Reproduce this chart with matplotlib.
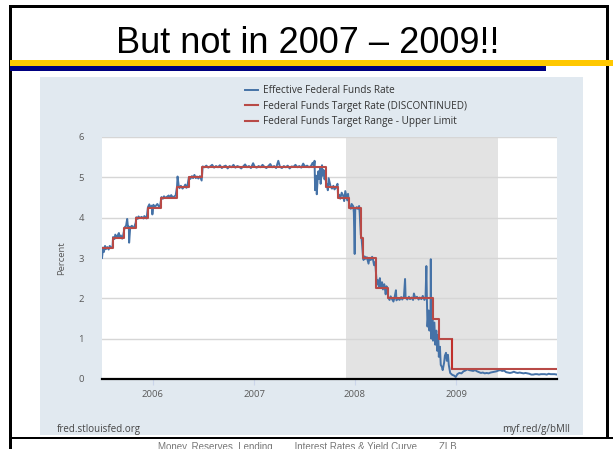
import matplotlib
matplotlib.use("Agg")
import matplotlib.pyplot as plt
from matplotlib.patches import Rectangle
import pandas as pd

# effective federal funds rate, percent
effr_dates = [
    "2005-07-01", "2005-07-05", "2005-07-08", "2005-07-12", "2005-07-15", "2005-07-20", "2005-07-25", "2005-07-29",
    "2005-08-03", "2005-08-08", "2005-08-10", "2005-08-15", "2005-08-18", "2005-08-23", "2005-08-26", "2005-08-31",
    "2005-09-02", "2005-09-07", "2005-09-12", "2005-09-15", "2005-09-21", "2005-09-26", "2005-09-30", "2005-10-03",
    "2005-10-06", "2005-10-07", "2005-10-11", "2005-10-17", "2005-10-21", "2005-10-26", "2005-10-31", "2005-11-02",
    "2005-11-07", "2005-11-10", "2005-11-15", "2005-11-21", "2005-11-28", "2005-12-01", "2005-12-06", "2005-12-09",
    "2005-12-14", "2005-12-19", "2005-12-23", "2005-12-28", "2005-12-30",
    "2006-01-03", "2006-01-06", "2006-01-11", "2006-01-17", "2006-01-23", "2006-01-27", "2006-02-01", "2006-02-06",
    "2006-02-10", "2006-02-15", "2006-02-21", "2006-02-27", "2006-03-03", "2006-03-08", "2006-03-14", "2006-03-20",
    "2006-03-24", "2006-03-29", "2006-03-31", "2006-04-04", "2006-04-07", "2006-04-12", "2006-04-18", "2006-04-24",
    "2006-04-28", "2006-05-02", "2006-05-05", "2006-05-11", "2006-05-16", "2006-05-22", "2006-05-26", "2006-05-31",
    "2006-06-05", "2006-06-09", "2006-06-14", "2006-06-20", "2006-06-26", "2006-06-30", "2006-07-06", "2006-07-13",
    "2006-07-20", "2006-07-27", "2006-08-03", "2006-08-10", "2006-08-17", "2006-08-24", "2006-08-31", "2006-09-07",
    "2006-09-14", "2006-09-21", "2006-09-28", "2006-10-05", "2006-10-12", "2006-10-19", "2006-10-26", "2006-11-02",
    "2006-11-09", "2006-11-16", "2006-11-23", "2006-11-30", "2006-12-07", "2006-12-14", "2006-12-21", "2006-12-29",
    "2007-01-04", "2007-01-11", "2007-01-18", "2007-01-25", "2007-02-01", "2007-02-08", "2007-02-15", "2007-02-22",
    "2007-03-01", "2007-03-08", "2007-03-15", "2007-03-22", "2007-03-30", "2007-04-05", "2007-04-12", "2007-04-19",
    "2007-04-26", "2007-05-03", "2007-05-10", "2007-05-17", "2007-05-24", "2007-05-31", "2007-06-07", "2007-06-14",
    "2007-06-21", "2007-06-28", "2007-07-05", "2007-07-12", "2007-07-19", "2007-07-26", "2007-08-01", "2007-08-06",
    "2007-08-08", "2007-08-10", "2007-08-13", "2007-08-15", "2007-08-16", "2007-08-20", "2007-08-22", "2007-08-24",
    "2007-08-28", "2007-08-30", "2007-09-04", "2007-09-06", "2007-09-10", "2007-09-13", "2007-09-17", "2007-09-19",
    "2007-09-21", "2007-09-25", "2007-09-28", "2007-10-02", "2007-10-05", "2007-10-10", "2007-10-15", "2007-10-19",
    "2007-10-24", "2007-10-30", "2007-11-01", "2007-11-05", "2007-11-09", "2007-11-14", "2007-11-19", "2007-11-23",
    "2007-11-27", "2007-11-30", "2007-12-04", "2007-12-07", "2007-12-12", "2007-12-17", "2007-12-20", "2007-12-26",
    "2007-12-28", "2007-12-31",
    "2008-01-02", "2008-01-07", "2008-01-11", "2008-01-16", "2008-01-18", "2008-01-22", "2008-01-25", "2008-01-30",
    "2008-02-01", "2008-02-05", "2008-02-08", "2008-02-13", "2008-02-19", "2008-02-22", "2008-02-27", "2008-03-03",
    "2008-03-06", "2008-03-10", "2008-03-14", "2008-03-18", "2008-03-20", "2008-03-24", "2008-03-27", "2008-03-31",
    "2008-04-03", "2008-04-08", "2008-04-11", "2008-04-16", "2008-04-21", "2008-04-24", "2008-04-28", "2008-04-30",
    "2008-05-05", "2008-05-09", "2008-05-14", "2008-05-19", "2008-05-23", "2008-05-28", "2008-05-30", "2008-06-04",
    "2008-06-10", "2008-06-16", "2008-06-20", "2008-06-26", "2008-06-30", "2008-07-02", "2008-07-08", "2008-07-14",
    "2008-07-18", "2008-07-23", "2008-07-29", "2008-08-01", "2008-08-06", "2008-08-12", "2008-08-18", "2008-08-22",
    "2008-08-28", "2008-09-02", "2008-09-08", "2008-09-12", "2008-09-15", "2008-09-17", "2008-09-19", "2008-09-23",
    "2008-09-26", "2008-09-30", "2008-10-01", "2008-10-03", "2008-10-07", "2008-10-09", "2008-10-14", "2008-10-17",
    "2008-10-21", "2008-10-24", "2008-10-28", "2008-10-30", "2008-11-03", "2008-11-06", "2008-11-10", "2008-11-13",
    "2008-11-18", "2008-11-21", "2008-11-25", "2008-11-28", "2008-12-02", "2008-12-05", "2008-12-10", "2008-12-15",
    "2008-12-18", "2008-12-23", "2008-12-30",
    "2009-01-05", "2009-01-12", "2009-01-20", "2009-01-27", "2009-02-03", "2009-02-10", "2009-02-17", "2009-02-24",
    "2009-03-03", "2009-03-10", "2009-03-17", "2009-03-24", "2009-03-31", "2009-04-07", "2009-04-14", "2009-04-21",
    "2009-04-28", "2009-05-05", "2009-05-12", "2009-05-19", "2009-05-26", "2009-06-02", "2009-06-09", "2009-06-16",
    "2009-06-23", "2009-06-30", "2009-07-07", "2009-07-14", "2009-07-21", "2009-07-28", "2009-08-04", "2009-08-11",
    "2009-08-18", "2009-08-25", "2009-09-01", "2009-09-08", "2009-09-15", "2009-09-22", "2009-09-29", "2009-10-06",
    "2009-10-13", "2009-10-20", "2009-10-27", "2009-11-03", "2009-11-10", "2009-11-17", "2009-11-24", "2009-12-01",
    "2009-12-08", "2009-12-15", "2009-12-22", "2009-12-31",
]
effr_vals = [
    3.00, 3.26, 3.15, 3.30, 3.22, 3.27, 3.21, 3.30,
    3.25, 3.28, 3.52, 3.47, 3.58, 3.50, 3.55, 3.62,
    3.50, 3.56, 3.48, 3.55, 3.76, 3.80, 3.97, 3.75,
    3.78, 3.38, 3.76, 3.80, 3.74, 3.78, 3.88, 4.01,
    3.97, 4.03, 3.99, 4.02, 3.98, 4.04, 4.00, 3.98,
    4.26, 4.33, 4.24, 4.30, 4.08,
    4.32, 4.26, 4.29, 4.34, 4.27, 4.30, 4.51, 4.47,
    4.53, 4.49, 4.52, 4.55, 4.49, 4.56, 4.50, 4.53,
    4.55, 4.76, 5.02, 4.80, 4.73, 4.79, 4.72, 4.77,
    4.82, 4.74, 4.77, 5.00, 4.96, 5.03, 4.98, 5.06,
    4.98, 5.02, 4.97, 5.03, 4.92, 5.27, 5.25, 5.29,
    5.24, 5.27, 5.31, 5.24, 5.28, 5.25, 5.30, 5.23,
    5.27, 5.29, 5.22, 5.28, 5.25, 5.31, 5.24, 5.28,
    5.26, 5.22, 5.27, 5.32, 5.25, 5.28, 5.23, 5.35,
    5.26, 5.24, 5.28, 5.25, 5.31, 5.26, 5.23, 5.28,
    5.33, 5.25, 5.28, 5.23, 5.41, 5.26, 5.23, 5.28,
    5.25, 5.29, 5.22, 5.27, 5.26, 5.31, 5.25, 5.28,
    5.24, 5.34, 5.26, 5.29, 5.25, 5.28, 5.36, 5.27,
    5.41, 4.68, 5.04, 5.02, 4.58, 5.06, 5.15, 4.96,
    5.22, 4.84, 5.30, 5.04, 5.18, 4.95, 5.06, 4.77,
    4.83, 4.68, 4.98, 4.86, 4.77, 4.72, 4.79, 4.70,
    4.74, 4.84, 4.52, 4.57, 4.47, 4.62, 4.55, 4.41,
    4.66, 4.56, 4.43, 4.59, 4.27, 4.22, 4.34, 4.28,
    4.12, 3.10,
    4.20, 4.26, 4.22, 4.29, 4.12, 3.58, 3.48, 3.04,
    2.95, 3.04, 2.98, 3.02, 2.86, 3.00, 2.95, 3.03,
    2.97, 2.82, 2.90, 2.52, 2.35, 2.45, 2.30, 2.50,
    2.28, 2.40, 2.22, 2.35, 2.10, 2.30, 2.20, 2.02,
    1.96, 2.05, 1.98, 1.92, 2.02, 2.20, 1.95, 2.00,
    1.96, 2.03, 1.97, 2.05, 2.48, 2.02, 1.97, 2.04,
    1.98, 2.02, 1.96, 2.12, 2.00, 2.04, 1.97, 2.02,
    1.98, 2.06, 1.96, 2.02, 2.80, 1.95, 1.30, 1.70,
    1.20, 1.60, 2.97, 1.00, 1.55, 0.95, 1.40, 0.85,
    1.20, 0.70, 1.10, 0.55, 0.80, 0.35, 0.30, 0.22,
    0.40, 0.58, 0.65, 0.45, 0.60, 0.35, 0.15, 0.12,
    0.10, 0.09, 0.05,
    0.12, 0.15, 0.14, 0.19, 0.21, 0.24, 0.22, 0.21,
    0.20, 0.22, 0.19, 0.17, 0.15, 0.16, 0.14, 0.15,
    0.14, 0.16, 0.17, 0.18, 0.19, 0.21, 0.22, 0.20,
    0.21, 0.17, 0.16, 0.15, 0.16, 0.18, 0.16, 0.15,
    0.16, 0.15, 0.14, 0.15, 0.14, 0.13, 0.11, 0.11,
    0.12, 0.12, 0.11, 0.12, 0.12, 0.12, 0.11, 0.13,
    0.12, 0.12, 0.12, 0.11,
]

# federal funds target rate (discontinued after 2008-12-15)
target_dates = ["2005-06-30", "2005-08-09", "2005-09-20", "2005-11-01", "2005-12-13", "2006-01-31",
                "2006-03-28", "2006-05-10", "2006-06-29", "2007-09-18", "2007-10-31", "2007-12-11",
                "2008-01-22", "2008-01-30", "2008-03-18", "2008-04-30", "2008-10-08", "2008-10-29",
                "2008-12-15"]
target_vals = [3.25, 3.50, 3.75, 4.00, 4.25, 4.50, 4.75, 5.00, 5.25, 4.75, 4.50, 4.25,
               3.50, 3.00, 2.25, 2.00, 1.50, 1.00, 1.00]

# federal funds target range, upper limit
upper_dates = ["2008-12-16", "2009-12-31"]
upper_vals = [0.25, 0.25]

recession = ("2007-12-01", "2009-06-01")
year_ticks = ["2006-01-01", "2007-01-01", "2008-01-01", "2009-01-01"]
year_labels = ["2006", "2007", "2008", "2009"]
y_ticks = [0, 1, 2, 3, 4, 5, 6]

legend_labels = ["Effective Federal Funds Rate",
                 "Federal Funds Target Rate (DISCONTINUED)",
                 "Federal Funds Target Range - Upper Limit"]

W, H = 613, 449
BLUE = "#4572a7"
RED = "#b84a47"
TXT = "#595959"

fig = plt.figure(figsize=(W / 100, H / 100), dpi=100)
fig.patch.set_facecolor("white")


def px_rect(x0, y0, x1, y1, color, z=0):
    # rectangle given in pixels from the top-left corner
    fig.patches.append(Rectangle((x0 / W, 1 - y1 / H), (x1 - x0) / W, (y1 - y0) / H,
                                 transform=fig.transFigure, facecolor=color,
                                 edgecolor="none", zorder=z))


# slide frame and header bars
px_rect(9, 5, 12, 449, "black")
px_rect(9, 5, 609, 8, "black")
px_rect(606, 5, 609, 438, "black")
px_rect(9, 437, 613, 439, "black")
px_rect(10, 60, 613, 66, "#ffc800", 1)
px_rect(10, 66, 546, 71, "#000080", 2)

# graph panel
px_rect(40, 77, 583, 435, "#e1e9f0", 1)

fig.text(308 / W, 1 - 53 / H, "But not in 2007 \u2013 2009!!", ha="center", va="baseline",
         fontsize=26, family="Liberation Sans", color="black")

ax = fig.add_axes([102 / W, 1 - 379 / H, (557 - 102) / W, (379 - 137) / H], zorder=3)
ax.set_facecolor("white")

d_effr = pd.to_datetime(effr_dates)
d_target = pd.to_datetime(target_dates)
d_upper = pd.to_datetime(upper_dates)

ax.axvspan(pd.Timestamp(recession[0]), pd.Timestamp(recession[1]), color="#e3e3e3", lw=0, zorder=0.2)
ax.grid(axis="y", color="#d6d6d6", lw=1)
ax.set_axisbelow(True)

l_target, = ax.plot(d_target, target_vals, color=RED, lw=1.5, drawstyle="steps-post", zorder=3)
l_upper, = ax.plot(d_upper, upper_vals, color=RED, lw=1.5, drawstyle="steps-post", zorder=3)
ax.vlines(d_upper[0], upper_vals[0], target_vals[-1], color="#c0302c", lw=1.5, zorder=3)
l_effr, = ax.plot(d_effr, effr_vals, color=BLUE, lw=1.4, zorder=2)

ax.set_xlim(pd.Timestamp("2005-07-01"), pd.Timestamp("2009-12-31"))
ax.set_ylim(0, 6)
ax.set_yticks(y_ticks)
ax.set_xticks(pd.to_datetime(year_ticks))
ax.set_xticklabels(year_labels)

for s in ["top", "left", "right"]:
    ax.spines[s].set_visible(False)
ax.spines["bottom"].set_color("black")
ax.spines["bottom"].set_linewidth(1.6)

ax.tick_params(axis="y", length=0, pad=13, labelsize=6.8, labelcolor=TXT)
ax.tick_params(axis="x", length=4, width=0.8, color="#ccd6eb", pad=4, labelsize=6.8, labelcolor=TXT)
for lab in ax.get_xticklabels() + ax.get_yticklabels():
    lab.set_family("Open Sans")

ax.set_ylabel("Percent", fontsize=6.8, color=TXT, family="Open Sans", labelpad=9)

fig.legend([l_effr, l_target, l_upper], legend_labels, loc="upper left",
           bbox_to_anchor=(241 / W, 1 - 81 / H), frameon=False, handlelength=1.3,
           handletextpad=0.5, labelspacing=0.45, borderaxespad=0,
           prop={"family": "Open Sans", "size": 7.2}, labelcolor="#333333")

fig.text(57 / W, 1 - 432 / H, "fred.stlouisfed.org", ha="left", va="baseline",
         fontsize=7, family="Open Sans", color="#444444", zorder=4)
fig.text(570 / W, 1 - 432 / H, "myf.red/g/bMll", ha="right", va="baseline",
         fontsize=7, family="Open Sans", color="#444444", zorder=4)

fig.text(307 / W, 1 - 442 / H,
         "Money, Reserves, Lending        Interest Rates & Yield Curve        ZLB",
         ha="center", va="top", fontsize=7, family="Liberation Sans", color="#777777")

fig.savefig("out.png", dpi=100)
